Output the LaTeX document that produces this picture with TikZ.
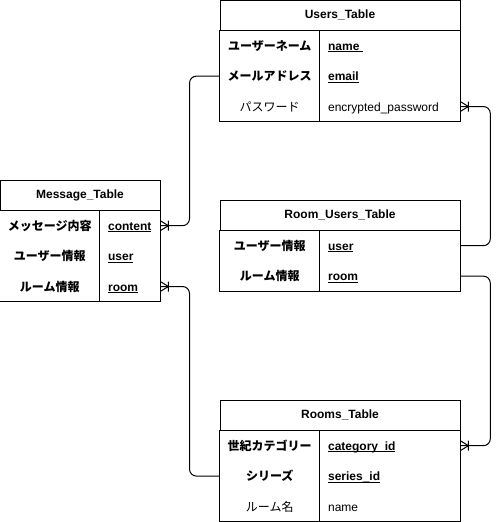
\documentclass[tikz,border=0pt]{standalone}
\usepackage{fontspec}
\setmainfont{Liberation Sans}
\newfontfamily\jpfont{Noto Sans CJK JP}
\usetikzlibrary{positioning}

\newcommand{\tblsize}{\fontsize{12pt}{14pt}\selectfont}
\newcommand{\keyfield}[1]{\underline{\smash{#1}}}

\tikzset{
  tablehead/.style={draw, line width=1pt, minimum width=240pt, minimum height=30pt,
    inner sep=0pt, font=\tblsize\bfseries},
  keycell/.style={minimum width=100pt, minimum height=30pt, inner sep=0pt,
    text height=10.5pt, text depth=1.5pt, font=\tblsize\jpfont\bfseries},
  valcell/.style={text width=124pt, minimum height=30pt, inner xsep=8pt, inner ysep=0pt,
    text height=10.5pt, text depth=1.5pt, align=left, font=\tblsize\bfseries},
  plaincell/.style={font=\tblsize\jpfont},
  plainval/.style={font=\tblsize},
  frame/.style={line width=1pt},
  relation/.style={line width=1pt, rounded corners=7pt},
  crowfoot/.pic={\draw[line width=1pt] (0,-5) -- (8,0) -- (0,5) (8,-5) -- (8,5);}
}

\begin{document}
\begin{tikzpicture}[x=1pt, y=-1pt]
  \useasboundingbox (0,0) rectangle (500,522);

  % Users_Table
  \node[tablehead] (u-head) at (340,15) {Users\_Table};
  \node[keycell, anchor=north west] (u-name-k) at (u-head.south west) {ユーザーネーム};
  \node[valcell, right=0pt of u-name-k] (u-name-v) {\keyfield{name\ }};
  \node[keycell, below=0pt of u-name-k] (u-mail-k) {メールアドレス};
  \node[valcell, right=0pt of u-mail-k] (u-mail-v) {\keyfield{email}};
  \node[keycell, plaincell, below=0pt of u-mail-k] (u-pass-k) {パスワード};
  \node[valcell, plainval, right=0pt of u-pass-k] (u-pass-v) {encrypted\_password};
  \draw[frame] (u-name-k.north west) rectangle (u-pass-v.south east);
  \draw[frame] (u-name-k.north east) -- (u-pass-k.south east);

  % Message_Table
  \node[tablehead, minimum width=160pt] (m-head) at (80,195) {Message\_Table};
  \node[keycell, anchor=north west] (m-cont-k) at (m-head.south west) {メッセージ内容};
  \node[valcell, text width=44pt, right=0pt of m-cont-k] (m-cont-v) {\keyfield{content}};
  \node[keycell, below=0pt of m-cont-k] (m-user-k) {ユーザー情報};
  \node[valcell, text width=44pt, right=0pt of m-user-k] (m-user-v) {\keyfield{user}};
  \node[keycell, below=0pt of m-user-k] (m-room-k) {ルーム情報};
  \node[valcell, text width=44pt, right=0pt of m-room-k] (m-room-v) {\keyfield{room}};
  \draw[frame] (m-cont-k.north west) rectangle (m-room-v.south east);
  \draw[frame] (m-cont-k.north east) -- (m-room-k.south east);

  % Room_Users_Table
  \node[tablehead] (ru-head) at (340,215) {Room\_Users\_Table};
  \node[keycell, anchor=north west] (ru-user-k) at (ru-head.south west) {ユーザー情報};
  \node[valcell, right=0pt of ru-user-k] (ru-user-v) {\keyfield{user}};
  \node[keycell, below=0pt of ru-user-k] (ru-room-k) {ルーム情報};
  \node[valcell, right=0pt of ru-room-k] (ru-room-v) {\keyfield{room}};
  \draw[frame] (ru-user-k.north west) rectangle (ru-room-v.south east);
  \draw[frame] (ru-user-k.north east) -- (ru-room-k.south east);

  % Rooms_Table
  \node[tablehead] (r-head) at (340,415) {Rooms\_Table};
  \node[keycell, anchor=north west] (r-cat-k) at (r-head.south west) {世紀カテゴリー};
  \node[valcell, right=0pt of r-cat-k] (r-cat-v) {\keyfield{category\_id}};
  \node[keycell, below=0pt of r-cat-k] (r-ser-k) {シリーズ};
  \node[valcell, right=0pt of r-ser-k] (r-ser-v) {\keyfield{series\_id}};
  \node[keycell, plaincell, below=0pt of r-ser-k] (r-name-k) {ルーム名};
  \node[valcell, plainval, right=0pt of r-name-k] (r-name-v) {name};
  \draw[frame] (r-cat-k.north west) rectangle (r-name-v.south east);
  \draw[frame] (r-cat-k.north east) -- (r-name-k.south east);

  % relations
  \draw[relation] (u-mail-k.west) -- ++(-30,0) |- (m-cont-v.east);
  \draw[relation] (u-pass-v.east) -- ++(30,0) |- (ru-user-v.east);
  \draw[relation] (ru-room-v.east) -- ++(30,0) |- (r-cat-v.east);
  \draw[relation] (r-ser-k.west) -- ++(-30,0) |- (m-room-v.east);
  \pic at (m-cont-v.east) {crowfoot};
  \pic at (m-room-v.east) {crowfoot};
  \pic at (u-pass-v.east) {crowfoot};
  \pic at (r-cat-v.east) {crowfoot};
\end{tikzpicture}
\end{document}
